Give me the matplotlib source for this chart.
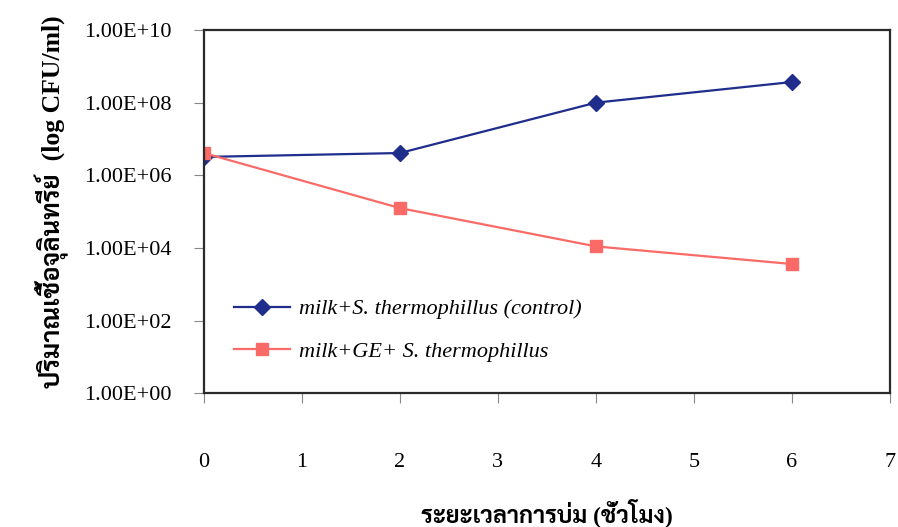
import math
import matplotlib
matplotlib.use("Agg")
from matplotlib import pyplot as plt
from matplotlib.ticker import FixedLocator, FuncFormatter

# incubation time (hours)
hours = [0, 2, 4, 6]

# CFU/ml
control_cfu = [3.2e6, 4.1e6, 1.0e8, 3.7e8]
ge_cfu = [4.1e6, 1.25e5, 1.1e4, 3.6e3]

control_label = "milk+S. thermophillus (control)"
ge_label = "milk+GE+ S. thermophillus"

x_ticks = [0, 1, 2, 3, 4, 5, 6, 7]
y_ticks = [1e0, 1e2, 1e4, 1e6, 1e8, 1e10]

serif = ["Liberation Serif", "Sarabun"]

fig = plt.figure(figsize=(8.98, 5.27), dpi=100)
ax = fig.add_axes([0.227, 0.254, 0.764, 0.689])

ax.plot(hours, control_cfu, color="#1f2d8c", marker="D", markersize=8,
        linewidth=1.6, label=control_label)
ax.plot(hours, ge_cfu, color="#fa6a66", marker="s", markersize=9,
        linewidth=1.6, label=ge_label)

ax.set_yscale("log")
ax.set_ylim(1e0, 1e10)
ax.set_xlim(0, 7)
ax.yaxis.set_major_locator(FixedLocator(y_ticks))
ax.yaxis.set_minor_locator(FixedLocator([]))
ax.yaxis.set_major_formatter(FuncFormatter(lambda v, p: "1.00E+%02d" % round(math.log10(v))))
ax.set_xticks(x_ticks)

for s in ax.spines.values():
    s.set_color("#2a2a2a")
    s.set_linewidth(1.6)

ax.tick_params(axis="y", direction="out", length=7, width=0.8, color="#888888", pad=16)
ax.tick_params(axis="x", direction="out", length=7, width=0.8, color="#888888", pad=36)
for lab in ax.get_xticklabels() + ax.get_yticklabels():
    lab.set_family(serif)
    lab.set_fontsize(16)

ax.set_xlabel("ระยะเวลาการบ่ม (ชั่วโมง)", family=serif, fontsize=17,
              fontweight="bold", va="center")
ax.xaxis.set_label_coords(0.5, -0.33)
ax.set_ylabel("ปริมาณเชื้อจุลินทรีย์  (log CFU/ml)", family=serif, fontsize=18.5,
              fontweight="bold")
ax.yaxis.set_label_coords(-0.197, 0.526)

ax.legend(loc="lower left", bbox_to_anchor=(0.015, 0.03), frameon=False,
          prop={"family": serif, "style": "italic", "size": 16},
          handlelength=2.5, handletextpad=0.4, labelspacing=1.0)

fig.savefig("out.png")
